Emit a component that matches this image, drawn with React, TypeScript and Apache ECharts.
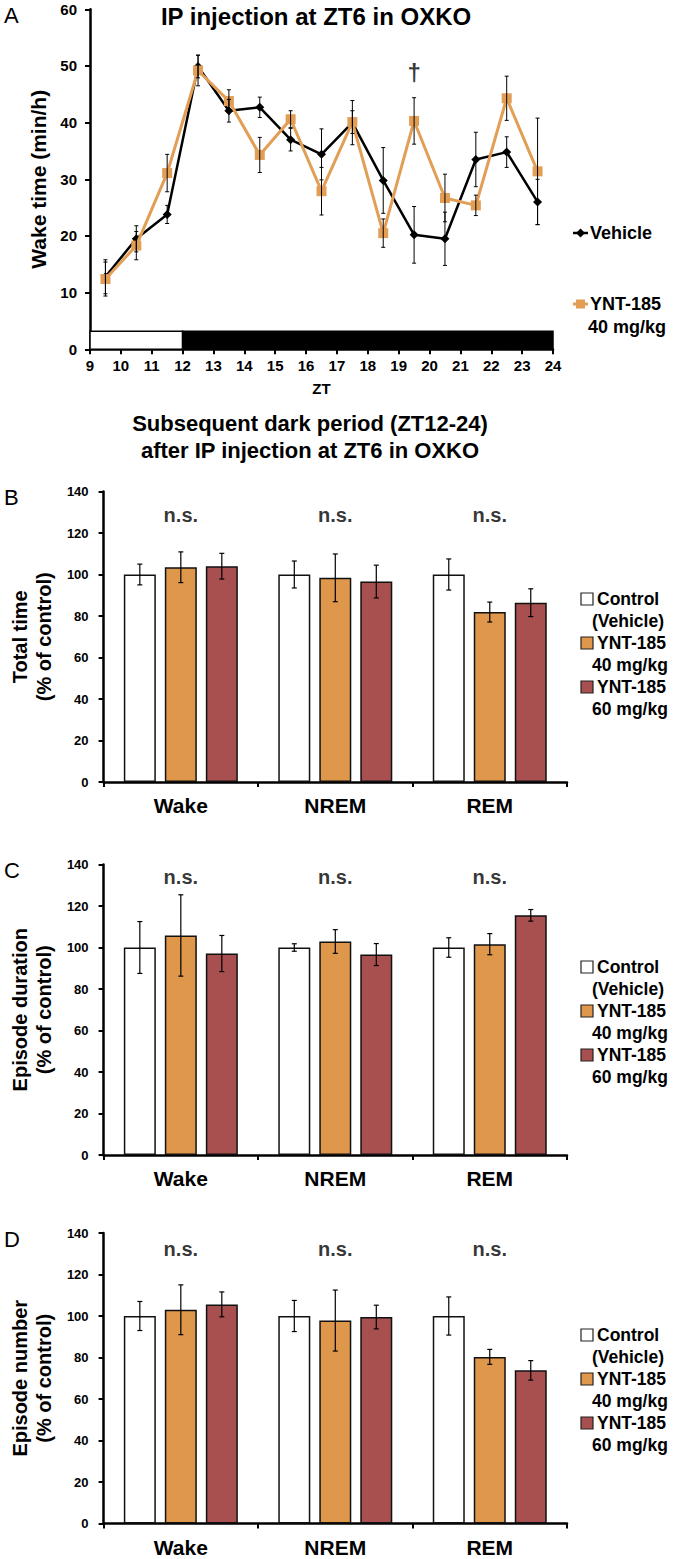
import React, { useEffect, useRef } from "react";
import * as echarts from "echarts";

// ---------- Panel A data ----------
const ztHours = [9.5, 10.5, 11.5, 12.5, 13.5, 14.5, 15.5, 16.5, 17.5, 18.5, 19.5, 20.5, 21.5, 22.5, 23.5];
const vehicleWake = [12.8, 19.5, 23.8, 49.9, 42.1, 42.7, 37.0, 34.4, 40.0, 29.8, 20.2, 19.5, 33.5, 34.8, 26.0];
const vehicleErr = [3.0, 2.3, 1.6, 2.0, 2.0, 1.8, 2.0, 4.5, 3.9, 5.8, 5.0, 4.7, 4.8, 2.7, 4.0];
const yntWake = [12.4, 18.3, 31.1, 49.2, 43.8, 34.3, 40.6, 27.9, 40.1, 20.5, 40.3, 26.7, 25.4, 44.3, 31.4];
const yntErr = [3.0, 2.5, 3.3, 2.7, 2.0, 3.1, 1.5, 4.2, 2.0, 2.5, 4.1, 4.2, 1.8, 3.9, 9.4];
const lightDark = [
  [9, 12, 0],
  [12, 24, 1],
];
const lightDarkHeight = 3.2;
const daggerPoint = [19.5, 48.9];

// ---------- Panels B-D data ----------
const stages = ["Wake", "NREM", "REM"];
const groupNames = [
  ["Control", "(Vehicle)"],
  ["YNT-185", "40 mg/kg"],
  ["YNT-185", "60 mg/kg"],
];

const totalControl = [100, 100, 100];
const totalControlErr = [5.0, 6.5, 7.5];
const total40 = [103.5, 98.4, 81.9];
const total40Err = [7.4, 11.5, 4.8];
const total60 = [104.0, 96.6, 86.4];
const total60Err = [6.2, 7.9, 6.7];

const durControl = [100, 100, 100];
const durControlErr = [12.5, 1.8, 4.7];
const dur40 = [105.8, 102.9, 101.6];
const dur40Err = [19.6, 5.7, 5.1];
const dur60 = [97.1, 96.6, 115.5];
const dur60Err = [8.7, 5.3, 2.8];

const numControl = [100, 100, 100];
const numControlErr = [7.0, 7.5, 9.2];
const num40 = [103.0, 97.8, 80.3];
const num40Err = [12.0, 14.7, 3.6];
const num60 = [105.6, 99.5, 73.8];
const num60Err = [6.0, 5.7, 4.7];

const sigLabels = ["n.s.", "n.s.", "n.s."];

const FONT = '"Liberation Sans", Arial, Helvetica, sans-serif';
const ORANGE_LINE = "#E39E55";
const ORANGE_BAR = "#DF974C";
const RED_BAR = "#A84F50";
const barColors = ["#FFFFFF", ORANGE_BAR, RED_BAR];

const panels = [
  {
    letter: "B",
    name: "Total time\n(% of control)",
    top: 491.5,
    sigY: 128.8,
    legendY: 599,
    means: [totalControl, total40, total60],
    errs: [totalControlErr, total40Err, total60Err],
  },
  {
    letter: "C",
    name: "Episode duration\n(% of control)",
    top: 864.5,
    sigY: 133.8,
    legendY: 967,
    means: [durControl, dur40, dur60],
    errs: [durControlErr, dur40Err, dur60Err],
  },
  {
    letter: "D",
    name: "Episode number\n(% of control)",
    top: 1233,
    sigY: 132.3,
    legendY: 1335,
    means: [numControl, num40, num60],
    errs: [numControlErr, num40Err, num60Err],
  },
];

const BAR_W = 32;
const BAR_GAP = 9;

function errBarItem(cx: number, yTop: number, yBot: number, cap: number, lw: number) {
  return {
    type: "group",
    children: [
      { type: "line", shape: { x1: cx, y1: yTop, x2: cx, y2: yBot }, style: { stroke: "#000", lineWidth: lw } },
      { type: "line", shape: { x1: cx - cap, y1: yTop, x2: cx + cap, y2: yTop }, style: { stroke: "#000", lineWidth: lw } },
      { type: "line", shape: { x1: cx - cap, y1: yBot, x2: cx + cap, y2: yBot }, style: { stroke: "#000", lineWidth: lw } },
    ],
  };
}

export default function App() {
  const ref = useRef<HTMLDivElement>(null);

  useEffect(() => {
    if (!ref.current) return;
    const chart = echarts.init(ref.current, undefined, { renderer: "svg" });

    const grids: any[] = [{ left: 90, top: 9.3, width: 463, height: 340 }];
    const xAxes: any[] = [
      {
        type: "value",
        gridIndex: 0,
        min: 9,
        max: 24,
        interval: 1,
        axisLine: { show: true, onZero: false, lineStyle: { color: "#000", width: 2.5 } },
        axisTick: { show: true, length: 5, lineStyle: { color: "#000", width: 2 } },
        axisLabel: { color: "#000", fontFamily: FONT, fontWeight: "bold", fontSize: 15, margin: 9 },
        splitLine: { show: false },
        name: "ZT",
        nameLocation: "middle",
        nameGap: 32,
        nameTextStyle: { color: "#000", fontFamily: FONT, fontWeight: "bold", fontSize: 15 },
      },
    ];
    const yAxes: any[] = [
      {
        type: "value",
        gridIndex: 0,
        min: 0,
        max: 60,
        interval: 10,
        axisLine: { show: true, lineStyle: { color: "#000", width: 2.5 } },
        axisTick: { show: true, length: 5, lineStyle: { color: "#000", width: 2 } },
        axisLabel: { color: "#000", fontFamily: FONT, fontWeight: "bold", fontSize: 15, margin: 13 },
        splitLine: { show: false },
        name: "Wake time (min/h)",
        nameLocation: "middle",
        nameGap: 35,
        nameTextStyle: { color: "#000", fontFamily: FONT, fontWeight: "bold", fontSize: 21 },
      },
    ];

    const series: any[] = [
      {
        type: "custom",
        xAxisIndex: 0,
        yAxisIndex: 0,
        data: lightDark,
        z: 1,
        renderItem: (params: any, api: any) => {
          const s = api.value(0);
          const e = api.value(1);
          const dark = api.value(2);
          const p0 = api.coord([s, lightDarkHeight]);
          const p1 = api.coord([e, 0]);
          return {
            type: "rect",
            shape: { x: p0[0], y: p0[1], width: p1[0] - p0[0], height: p1[1] - p0[1] },
            style: { fill: dark ? "#000" : "#fff", stroke: "#000", lineWidth: 1.5 },
          };
        },
      },
      {
        name: "Vehicle",
        type: "line",
        xAxisIndex: 0,
        yAxisIndex: 0,
        data: ztHours.map((x, i) => [x, vehicleWake[i]]),
        symbol: "diamond",
        symbolSize: 9,
        lineStyle: { color: "#000", width: 2.5 },
        itemStyle: { color: "#000" },
        z: 3,
      },
      {
        name: "YNT-185 40 mg/kg",
        type: "line",
        xAxisIndex: 0,
        yAxisIndex: 0,
        data: ztHours.map((x, i) => [x, yntWake[i]]),
        symbol: "rect",
        symbolSize: 10,
        lineStyle: { color: ORANGE_LINE, width: 3 },
        itemStyle: { color: ORANGE_LINE },
        z: 4,
      },
      {
        type: "custom",
        xAxisIndex: 0,
        yAxisIndex: 0,
        data: ztHours.map((x, i) => [x, vehicleWake[i], vehicleErr[i]]),
        z: 5,
        renderItem: (params: any, api: any) => {
          const x = api.value(0), y = api.value(1), e = api.value(2);
          const t = api.coord([x, y + e]);
          const b = api.coord([x, y - e]);
          return errBarItem(t[0], t[1], b[1], 2, 1);
        },
      },
      {
        type: "custom",
        xAxisIndex: 0,
        yAxisIndex: 0,
        data: ztHours.map((x, i) => [x, yntWake[i], yntErr[i]]),
        z: 5,
        renderItem: (params: any, api: any) => {
          const x = api.value(0), y = api.value(1), e = api.value(2);
          const t = api.coord([x, y + e]);
          const b = api.coord([x, y - e]);
          return errBarItem(t[0], t[1], b[1], 2, 1);
        },
      },
      {
        type: "scatter",
        xAxisIndex: 0,
        yAxisIndex: 0,
        data: [daggerPoint],
        symbolSize: 1,
        itemStyle: { color: "rgba(0,0,0,0)" },
        label: {
          show: true,
          position: "inside",
          formatter: "†",
          color: "#000",
          fontFamily: FONT,
          fontWeight: "bold",
          fontSize: 24,
        },
        z: 6,
      },
    ];

    const graphics: any[] = [
      {
        type: "text",
        x: 316,
        y: 16,
        style: {
          text: "IP injection at ZT6 in OXKO",
          fill: "#000",
          fontFamily: FONT,
          fontWeight: "bold",
          fontSize: 24,
          textAlign: "center",
          textVerticalAlign: "middle",
        },
      },
      {
        type: "text",
        x: 4,
        y: 15,
        style: { text: "A", fill: "#000", fontFamily: FONT, fontSize: 22, textVerticalAlign: "middle" },
      },
      {
        type: "text",
        x: 310,
        y: 423,
        style: {
          text: "Subsequent dark period (ZT12-24)",
          fill: "#000",
          fontFamily: FONT,
          fontWeight: "bold",
          fontSize: 22,
          textAlign: "center",
          textVerticalAlign: "middle",
        },
      },
      {
        type: "text",
        x: 310,
        y: 450,
        style: {
          text: "after IP injection at ZT6 in OXKO",
          fill: "#000",
          fontFamily: FONT,
          fontWeight: "bold",
          fontSize: 22,
          textAlign: "center",
          textVerticalAlign: "middle",
        },
      },
      // Panel A legend
      { type: "line", shape: { x1: 573, y1: 233, x2: 588, y2: 233 }, style: { stroke: "#000", lineWidth: 2.5 } },
      {
        type: "polygon",
        shape: { points: [[580.5, 228.5], [585, 233], [580.5, 237.5], [576, 233]] },
        style: { fill: "#000" },
      },
      {
        type: "text",
        x: 590,
        y: 233,
        style: { text: "Vehicle", fill: "#000", fontFamily: FONT, fontWeight: "bold", fontSize: 18, textVerticalAlign: "middle" },
      },
      { type: "line", shape: { x1: 573, y1: 304, x2: 588, y2: 304 }, style: { stroke: ORANGE_LINE, lineWidth: 3 } },
      { type: "rect", shape: { x: 576, y: 299.5, width: 9, height: 9 }, style: { fill: ORANGE_LINE } },
      {
        type: "text",
        x: 590,
        y: 304,
        style: { text: "YNT-185", fill: "#000", fontFamily: FONT, fontWeight: "bold", fontSize: 18, textVerticalAlign: "middle" },
      },
      {
        type: "text",
        x: 588,
        y: 327,
        style: { text: "40 mg/kg", fill: "#000", fontFamily: FONT, fontWeight: "bold", fontSize: 18, textVerticalAlign: "middle" },
      },
    ];

    panels.forEach((p, pi) => {
      const gi = pi + 1;
      grids.push({ left: 90, top: p.top, width: 477, height: 290.5 });
      xAxes.push({
        type: "category",
        gridIndex: gi,
        data: stages,
        axisLine: { show: true, lineStyle: { color: "#000", width: 2.5 } },
        axisTick: { show: true, alignWithLabel: false, length: 5, lineStyle: { color: "#000", width: 2 } },
        axisLabel: { color: "#000", fontFamily: FONT, fontWeight: "bold", fontSize: 21, margin: 13 },
        splitLine: { show: false },
      });
      yAxes.push({
        type: "value",
        gridIndex: gi,
        min: 0,
        max: 140,
        interval: 20,
        axisLine: { show: true, lineStyle: { color: "#000", width: 2.5 } },
        axisTick: { show: true, length: 5, lineStyle: { color: "#000", width: 2 } },
        axisLabel: { color: "#000", fontFamily: FONT, fontWeight: "bold", fontSize: 13, margin: 15 },
        splitLine: { show: false },
        name: p.name,
        nameLocation: "middle",
        nameGap: 41,
        nameTextStyle: { color: "#000", fontFamily: FONT, fontWeight: "bold", fontSize: 20, lineHeight: 24 },
      });
      p.means.forEach((m, si) => {
        series.push({
          name: groupNames[si].join(" "),
          type: "bar",
          xAxisIndex: gi,
          yAxisIndex: gi,
          data: m,
          barWidth: BAR_W,
          barGap: `${(BAR_GAP / BAR_W) * 100}%`,
          itemStyle: { color: barColors[si], borderColor: "#111", borderWidth: 1.5 },
          z: 2,
        });
      });
      p.means.forEach((m, si) => {
        const offset = (si - 1) * (BAR_W + BAR_GAP);
        series.push({
          type: "custom",
          xAxisIndex: gi,
          yAxisIndex: gi,
          data: m.map((v, ci) => [ci, v, p.errs[si][ci]]),
          z: 5,
          renderItem: (params: any, api: any) => {
            const c = api.value(0), y = api.value(1), e = api.value(2);
            const t = api.coord([c, y + e]);
            const b = api.coord([c, y - e]);
            return errBarItem(t[0] + offset, t[1], b[1], 2.5, 1.2);
          },
        });
      });
      series.push({
        type: "scatter",
        xAxisIndex: gi,
        yAxisIndex: gi,
        data: sigLabels.map((s, ci) => [ci, p.sigY]),
        symbolSize: 1,
        itemStyle: { color: "rgba(0,0,0,0)" },
        label: {
          show: true,
          position: "inside",
          formatter: (params: any) => sigLabels[params.dataIndex],
          color: "#000",
          fontFamily: FONT,
          fontWeight: "bold",
          fontSize: 20,
        },
        z: 6,
      });
      graphics.push({
        type: "text",
        x: 4,
        y: p.top + 6,
        style: { text: p.letter, fill: "#000", fontFamily: FONT, fontSize: 22, textVerticalAlign: "middle" },
      });
      groupNames.forEach((lines, si) => {
        const y0 = p.legendY + si * 44;
        graphics.push({
          type: "rect",
          shape: { x: 581, y: y0 - 6, width: 12, height: 12 },
          style: { fill: barColors[si], stroke: "#222", lineWidth: 1.2 },
        });
        graphics.push({
          type: "text",
          x: 597,
          y: y0,
          style: { text: lines[0], fill: "#000", fontFamily: FONT, fontWeight: "bold", fontSize: 17.5, textVerticalAlign: "middle" },
        });
        graphics.push({
          type: "text",
          x: 592,
          y: y0 + 22,
          style: { text: lines[1], fill: "#000", fontFamily: FONT, fontWeight: "bold", fontSize: 17.5, textVerticalAlign: "middle" },
        });
      });
    });

    chart.setOption({
      animation: false,
      backgroundColor: "#fff",
      grid: grids,
      xAxis: xAxes,
      yAxis: yAxes,
      series,
      graphic: { elements: graphics },
    });

    return () => chart.dispose();
  }, []);

  return (
    <div
      ref={ref}
      style={{ position: "absolute", left: 0, top: 0, width: 680, height: 1559, background: "#fff" }}
    />
  );
}
